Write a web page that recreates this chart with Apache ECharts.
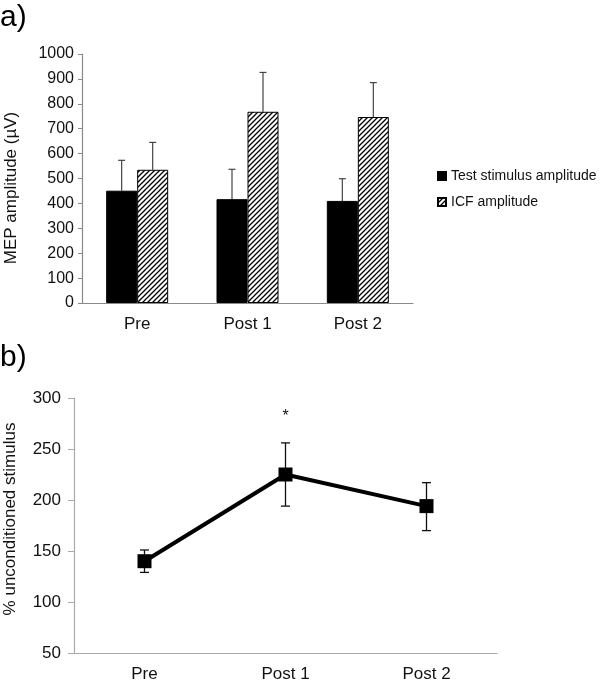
<!DOCTYPE html>
<html><head><meta charset="utf-8">
<script src="https://cdn.jsdelivr.net/npm/echarts@6/dist/echarts.min.js"></script>
<style>html,body{margin:0;padding:0;background:#fff}#c{width:600px;height:685px}</style>
</head><body><div id="c"></div>
<script>
// ---- data ----
const categories = ['Pre', 'Post 1', 'Post 2'];
const testAmp = [451, 417, 410];
const testAmpErr = [573, 537, 499];
const icfAmp = [535, 768, 747];
const icfAmpErr = [645, 926, 885];
const pctUncond = [140, 225, 194];
const pctErrHigh = [151, 256, 217];
const pctErrLow = [129, 194, 170];
const sigMarks = ['', '*', ''];
const yTicksA = [0, 1000, 100];
const yTicksB = [50, 300, 50];

const FONT = 'Liberation Sans, Arial, Helvetica, sans-serif';

function hatch() {
  const s = 5, c = document.createElement('canvas');
  c.width = s; c.height = s;
  const g = c.getContext('2d');
  g.fillStyle = '#fff'; g.fillRect(0, 0, s, s);
  g.strokeStyle = '#000'; g.lineWidth = 1.3;
  g.beginPath();
  g.moveTo(-1, s + 1); g.lineTo(s + 1, -1);
  g.moveTo(-1, 1); g.lineTo(1, -1);
  g.moveTo(s - 1, s + 1); g.lineTo(s + 1, s - 1);
  g.stroke();
  return c;
}

const BW = 31;
function errA(errArr, vals, offset, color) {
  return {
    type: 'custom', xAxisIndex: 0, yAxisIndex: 0, silent: true, z: 1,
    data: errArr.map((e, i) => [i, vals[i], e]),
    renderItem: function (params, api) {
      const i = api.value(0);
      const b = api.coord([i, api.value(1)]);
      const top = api.coord([i, api.value(2)]);
      const x = top[0] + offset;
      const st = { stroke: color, lineWidth: 1.2 };
      return {
        type: 'group', children: [
          { type: 'line', shape: { x1: x, y1: b[1], x2: x, y2: top[1] }, style: st },
          { type: 'line', shape: { x1: x - 3.5, y1: top[1], x2: x + 3.5, y2: top[1] }, style: st }
        ]
      };
    }
  };
}

const chart = echarts.init(document.getElementById('c'));
chart.setOption({
  animation: false,
  backgroundColor: '#fff',
  textStyle: { fontFamily: FONT },
  graphic: [
    { type: 'text', left: 0, top: 3, style: { text: 'a)', font: '30px ' + FONT, fill: '#000' } },
    { type: 'text', left: 0, top: 343, style: { text: 'b)', font: '30px ' + FONT, fill: '#000' } },
    { type: 'text', x: 11, y: 188, rotation: Math.PI / 2,
      style: { text: 'MEP amplitude (µV)', font: '17px ' + FONT, fill: '#111', align: 'center', verticalAlign: 'middle' } },
    { type: 'text', x: 10, y: 519, rotation: Math.PI / 2,
      style: { text: '% unconditioned stimulus', font: '17px ' + FONT, fill: '#111', align: 'center', verticalAlign: 'middle' } }
  ],
  legend: {
    left: 432, top: 164, orient: 'vertical', itemWidth: 8, itemHeight: 8, itemGap: 12,
    textStyle: { fontSize: 14, color: '#111', fontFamily: FONT },
    data: [
      { name: 'Test stimulus amplitude', icon: 'rect' },
      { name: 'ICF amplitude', icon: 'rect' }
    ]
  },
  grid: [
    { left: 82, right: 187, top: 54, bottom: 382 },
    { left: 74, right: 103, top: 398, bottom: 32 }
  ],
  xAxis: [
    {
      gridIndex: 0, type: 'category', data: categories,
      axisLine: { lineStyle: { color: '#8a8a8a', width: 1.2 } },
      axisTick: { show: false },
      axisLabel: { fontSize: 17, color: '#111', margin: 13, fontFamily: FONT }
    },
    {
      gridIndex: 1, type: 'category', data: categories,
      axisLine: { lineStyle: { color: '#aaa', width: 1.2 } },
      axisTick: { show: false },
      axisLabel: { fontSize: 17, color: '#111', margin: 13, fontFamily: FONT }
    }
  ],
  yAxis: [
    {
      gridIndex: 0, type: 'value', min: yTicksA[0], max: yTicksA[1], interval: yTicksA[2],
      axisLine: { show: true, lineStyle: { color: '#8a8a8a', width: 1.2 } },
      axisTick: { show: true, length: 4, lineStyle: { color: '#8a8a8a' } },
      splitLine: { show: false },
      axisLabel: { fontSize: 16, color: '#111', margin: 8, fontFamily: FONT, formatter: v => String(v) }
    },
    {
      gridIndex: 1, type: 'value', min: yTicksB[0], max: yTicksB[1], interval: yTicksB[2],
      axisLine: { show: true, lineStyle: { color: '#aaa', width: 1.2 } },
      axisTick: { show: true, length: 6, lineStyle: { color: '#aaa' } },
      splitLine: { show: false },
      axisLabel: { fontSize: 17, color: '#111', margin: 13, fontFamily: FONT, formatter: v => String(v) }
    }
  ],
  series: [
    {
      name: 'Test stimulus amplitude', type: 'bar', xAxisIndex: 0, yAxisIndex: 0,
      data: testAmp, barWidth: BW, barGap: '0%', z: 2,
      itemStyle: { color: '#000', borderColor: '#000', borderWidth: 1 }
    },
    {
      name: 'ICF amplitude', type: 'bar', xAxisIndex: 0, yAxisIndex: 0,
      data: icfAmp, barWidth: BW, barGap: '0%', z: 2,
      itemStyle: { color: { image: hatch(), repeat: 'repeat' }, borderColor: '#000', borderWidth: 1 }
    },
    errA(testAmpErr, testAmp, -BW / 2, '#444'),
    errA(icfAmpErr, icfAmp, BW / 2, '#444'),
    {
      type: 'line', xAxisIndex: 1, yAxisIndex: 1, data: pctUncond,
      symbol: 'rect', symbolSize: 14, z: 3,
      lineStyle: { color: '#000', width: 4 },
      itemStyle: { color: '#000' }
    },
    {
      type: 'custom', xAxisIndex: 1, yAxisIndex: 1, silent: true, z: 2,
      data: pctUncond.map((v, i) => [i, pctErrLow[i], pctErrHigh[i]]),
      renderItem: function (params, api) {
        const i = api.value(0);
        const lo = api.coord([i, api.value(1)]);
        const hi = api.coord([i, api.value(2)]);
        const x = lo[0];
        const st = { stroke: '#111', lineWidth: 1.3 };
        return {
          type: 'group', children: [
            { type: 'line', shape: { x1: x, y1: lo[1], x2: x, y2: hi[1] }, style: st },
            { type: 'line', shape: { x1: x - 4.5, y1: lo[1], x2: x + 4.5, y2: lo[1] }, style: st },
            { type: 'line', shape: { x1: x - 4.5, y1: hi[1], x2: x + 4.5, y2: hi[1] }, style: st }
          ]
        };
      }
    },
    {
      type: 'custom', xAxisIndex: 1, yAxisIndex: 1, silent: true, z: 2,
      data: pctErrHigh.map((v, i) => [i, v]),
      renderItem: function (params, api) {
        const i = api.value(0);
        const mark = sigMarks[i];
        if (!mark) return null;
        const p = api.coord([i, api.value(1)]);
        return {
          type: 'text', x: p[0], y: p[1] - 26,
          style: { text: mark, font: '16px ' + FONT, fill: '#111', align: 'center', verticalAlign: 'middle' }
        };
      }
    }
  ]
});
</script>
</body></html>
